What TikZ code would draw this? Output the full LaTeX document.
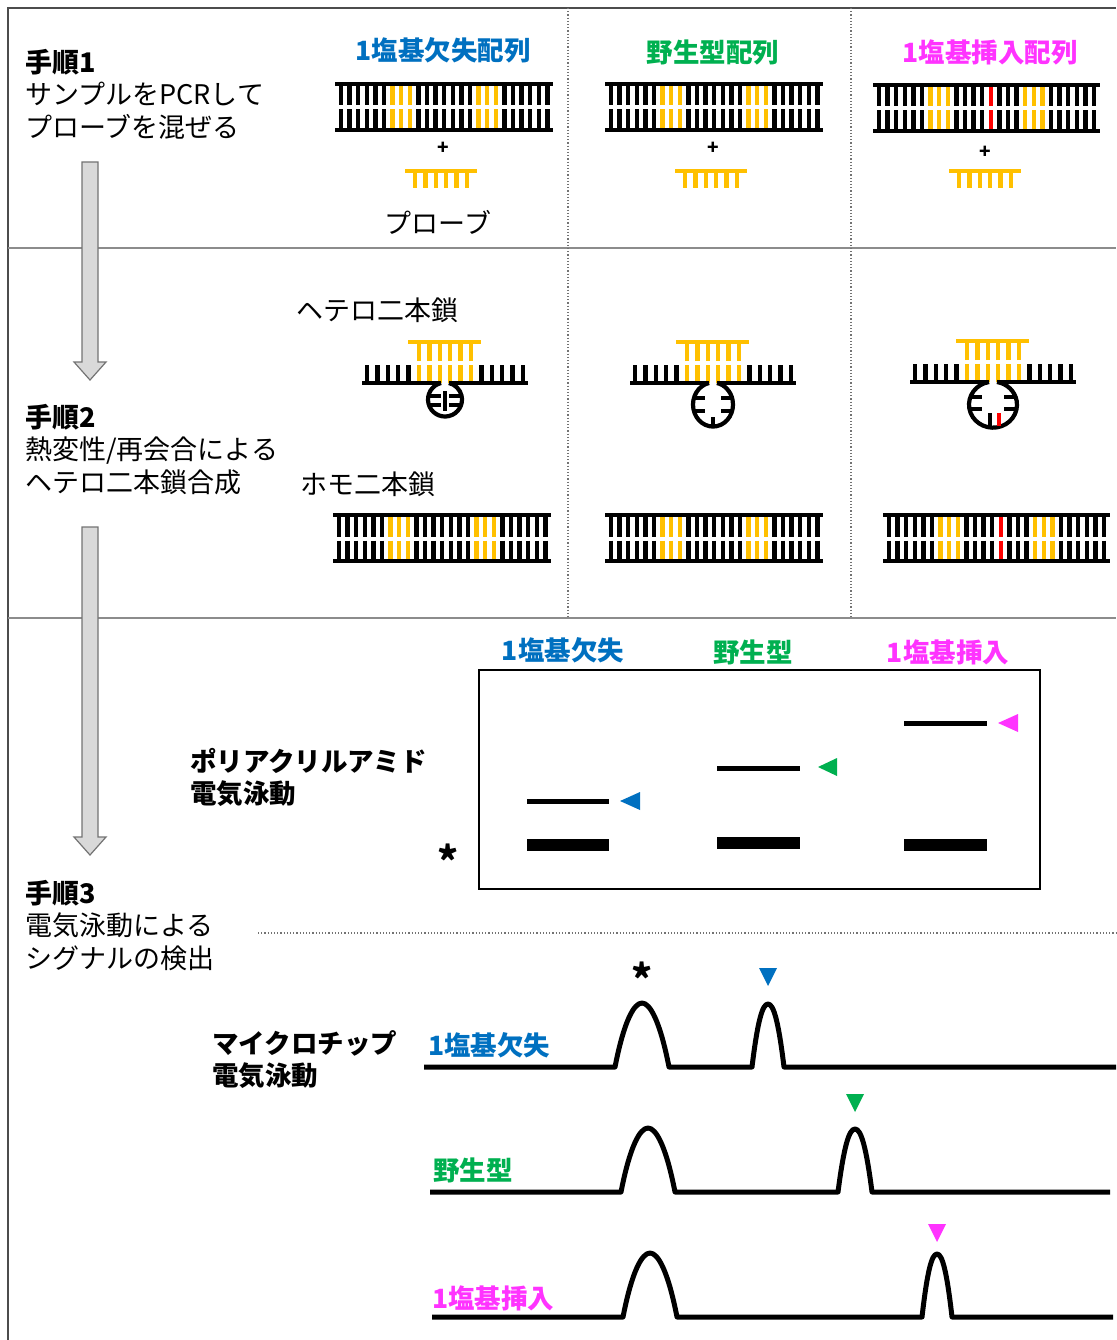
\documentclass[tikz,border=0pt]{standalone}
\usepackage{fontspec}
\setmainfont{Noto Sans CJK JP}
\usepackage{tikz}
\usepackage{xcolor}
\definecolor{deletion}{RGB}{0,112,192}
\definecolor{wildtype}{RGB}{0,176,80}
\definecolor{insertion}{RGB}{255,51,255}
\definecolor{probe}{RGB}{255,192,0}
\definecolor{missing}{RGB}{210,210,210}
\definecolor{extra}{RGB}{255,0,0}
\definecolor{flow}{RGB}{217,217,217}

% double strand: first rung x, top rail y, number of rungs, rung colours
\newcommand{\dsdna}[4]{%
  \foreach \col [count=\k from 0] in {#4}{%
    \draw[rung,\col] (#1+\k*8.6,#2) -- (#1+\k*8.6,#2+21.5);
    \draw[rung,\col] (#1+\k*8.6,#2+25.5) -- (#1+\k*8.6,#2+46);
  }
  \draw[rail] (#1-6,#2) -- (#1+#3*8.6-2.6,#2);
  \draw[rail] (#1-6,#2+46) -- (#1+#3*8.6-2.6,#2+46);
}

% free probe: centre x, bar y
\newcommand{\probe}[2]{%
  \foreach \k in {0,...,5}
    \draw[rung,probe] (#1-26+\k*10.4,#2) -- (#1-26+\k*10.4,#2+17);
  \draw[bar] (#1-36,#2) -- (#1+36,#2);
}

% probe on a single strand with a loop: centre x, rail y, loop radii
\newcommand{\hetero}[4]{%
  \foreach \k in {0,1,2,3,4,11,12,13,14,15}
    \draw[rung] (#1-78+\k*10.4,#2) -- (#1-78+\k*10.4,#2-18);
  \foreach \k in {5,...,10}{%
    \draw[rung,probe] (#1-78+\k*10.4,#2) -- (#1-78+\k*10.4,#2-18);
    \draw[rung,probe] (#1-78+\k*10.4,#2-22) -- (#1-78+\k*10.4,#2-41);
  }
  \draw[bar] (#1-37,#2-41) -- (#1+36,#2-41);
  \draw[rail] (#1-83,#2) -- (#1-4,#2);
  \draw[rail] (#1+4,#2) -- (#1+83,#2);
  \draw[loop] (#1-4,#2) arc[start angle={-90-asin(4/#3)}, end angle={-450+asin(4/#3)}, x radius=#3, y radius=#4];
}

% electropherogram: base y, x from, x to, first peak x, second peak x, half width
\newcommand{\trace}[6]{%
  \draw[trace] (#2,#1) -- (#4-27,#1)
    .. controls (#4-18,#1-46) and (#4-8,#1-64) .. (#4,#1-64)
    .. controls (#4+8,#1-64) and (#4+18,#1-46) .. (#4+27,#1)
    -- (#5-#6,#1)
    .. controls (#5-#6*0.65,#1-46) and (#5-#6*0.35,#1-63) .. (#5,#1-63)
    .. controls (#5+#6*0.35,#1-63) and (#5+#6*0.65,#1-46) .. (#5+#6,#1)
    -- (#3,#1);
}

\begin{document}
\begin{tikzpicture}[x=1pt, y=-1pt,
  txt/.style={inner sep=0pt, font=\fontsize{27}{32.5}\selectfont},
  hdr/.style={inner sep=0pt, font=\fontsize{26.5}{32.5}\selectfont\bfseries},
  rung/.style={line width=4.5pt, black},
  rail/.style={line width=4.8pt, black},
  bar/.style={line width=4.8pt, probe},
  loop/.style={line width=4.2pt, black},
  stub/.style={line width=3.4pt, black},
  trace/.style={line width=5pt, line join=round},
  frame/.style={line width=2pt, black!70},
  sep/.style={line width=1.3pt, black!45},
  dotsep/.style={line width=1.2pt, black!55, dotted},
  flowarrow/.style={fill=flow, draw=black!55, line width=1.2pt}]

\useasboundingbox (0,0) rectangle (1116,1340);

% panel lines
\draw[frame] (8,1340) -- (8,8) -- (1116,8);
\draw[sep] (8,248) -- (1116,248);
\draw[sep] (8,618) -- (1116,618);
\draw[dotsep] (568,8) -- (568,618);
\draw[dotsep] (851,8) -- (851,618);
\draw[dotsep] (258,933) -- (1116,933);

% process arrows
\draw[flowarrow] (82,162) -- (98,162) -- (98,362) -- (106,362) -- (90,380)
  -- (74,362) -- (82,362) -- cycle;
\draw[flowarrow] (82,527) -- (98,527) -- (98,837) -- (106,837) -- (90,855)
  -- (74,837) -- (82,837) -- cycle;

% steps
\node[txt, anchor=north west, align=left] (step1) at (25,49)
  {\textbf{手順1}\\サンプルをPCRして\\プローブを混ぜる};
\node[txt, anchor=north west, align=left] (step2) at (25,404)
  {\textbf{手順2}\\熱変性/再会合による\\ヘテロ二本鎖合成};
\node[txt, anchor=north west, align=left] (step3) at (25,880)
  {\textbf{手順3}\\電気泳動による\\シグナルの検出};

% step 1: amplified sequences and probe
\node[hdr, deletion] (seqdel) at (443,50) {1塩基欠失配列};
\node[hdr, wildtype] (seqwt) at (713,52) {野生型配列};
\node[hdr, insertion] (seqins) at (990,52) {1塩基挿入配列};

\dsdna{341}{84}{25}{black,black,black,black,black,black,probe,probe,probe,black,black,black,missing,black,black,black,probe,probe,probe,black,black,black,black,black,black}
\dsdna{611}{84}{25}{black,black,black,black,black,black,probe,probe,probe,black,black,black,black,black,black,black,probe,probe,probe,black,black,black,black,black,black}
\dsdna{879}{85}{26}{black,black,black,black,black,black,probe,probe,probe,black,black,black,black,extra,black,black,black,probe,probe,probe,black,black,black,black,black,black}

\node[inner sep=0pt, font=\fontsize{19}{19}\selectfont\bfseries] (plusdel) at (443,148) {+};
\node[inner sep=0pt, font=\fontsize{19}{19}\selectfont\bfseries] (pluswt) at (713,148) {+};
\node[inner sep=0pt, font=\fontsize{19}{19}\selectfont\bfseries] (plusins) at (985,152) {+};

\probe{441}{171}
\probe{711}{171}
\probe{985}{171}
\node[txt] (probelbl) at (438,222) {プローブ};

% step 2: heteroduplex and homoduplex
\node[txt, anchor=west] (heterolbl) at (296,310) {ヘテロ二本鎖};
\node[txt, anchor=west] (homolbl) at (300,484) {ホモ二本鎖};

\hetero{445}{383}{17}{17}
\draw[stub] (430,396) -- (441,396) (430,405) -- (441,405)
  (460,396) -- (449,396) (460,405) -- (449,405) (445,391) -- (445,411);
\hetero{713}{383}{20}{22}
\draw[stub] (695,398) -- (705,398) (695,411) -- (705,411)
  (731,398) -- (721,398) (731,411) -- (721,411) (713,427) -- (713,417);
\hetero{993}{382}{24}{23}
\draw[stub] (971,397) -- (982,397) (971,409) -- (982,409)
  (1015,397) -- (1004,397) (1015,409) -- (1004,409) (990,426) -- (990,413);
\draw[stub, extra] (999,426) -- (999,413);

\dsdna{339}{515}{25}{black,black,black,black,black,black,probe,probe,probe,black,black,black,missing,black,black,black,probe,probe,probe,black,black,black,black,black,black}
\dsdna{611}{515}{25}{black,black,black,black,black,black,probe,probe,probe,black,black,black,black,black,black,black,probe,probe,probe,black,black,black,black,black,black}
\dsdna{889}{515}{26}{black,black,black,black,black,black,probe,probe,probe,black,black,black,black,extra,black,black,black,probe,probe,probe,black,black,black,black,black,black}

% step 3: polyacrylamide gel
\node[hdr, deletion] (geldel) at (563,650) {1塩基欠失};
\node[hdr, wildtype] (gelwt) at (753,652) {野生型};
\node[hdr, insertion] (gelins) at (948,652) {1塩基挿入};
\node[hdr, anchor=north west, align=left] (pagelbl) at (190,748) {ポリアクリルアミド\\電気泳動};
\node[inner sep=0pt, font=\fontsize{40}{40}\selectfont\bfseries] (gelstar) at (448,860) {*};

\draw[line width=2.5pt] (479,670) rectangle (1040,889);
\draw[line width=5pt] (527,801) -- (609,801);
\fill (527,839) rectangle (609,851);
\draw[line width=5pt] (717,768) -- (800,768);
\fill (717,837) rectangle (800,849);
\draw[line width=5pt] (904,723) -- (987,723);
\fill (904,839) rectangle (987,851);
\fill[deletion] (620,801) -- (640,792) -- (640,810) -- cycle;
\fill[wildtype] (818,767) -- (837,758) -- (837,776) -- cycle;
\fill[insertion] (998,723) -- (1018,714) -- (1018,732) -- cycle;

% step 3: microchip electrophoresis
\node[hdr, anchor=north west, align=left] (chiplbl) at (212,1030) {マイクロチップ\\電気泳動};
\node[hdr, deletion, anchor=west] (tracedel) at (428,1045) {1塩基欠失};
\node[hdr, wildtype, anchor=west] (tracewt) at (433,1170) {野生型};
\node[hdr, insertion, anchor=west] (traceins) at (432,1298) {1塩基挿入};
\node[inner sep=0pt, font=\fontsize{40}{40}\selectfont\bfseries] (tracestar) at (642,978) {*};

\trace{1067}{424}{1116}{642}{768}{16}
\trace{1192}{430}{1110}{648}{855}{17}
\trace{1317}{432}{1113}{650}{937}{15}

\fill[deletion] (759,968) -- (777,968) -- (768,986) -- cycle;
\fill[wildtype] (846,1094) -- (864,1094) -- (855,1112) -- cycle;
\fill[insertion] (928,1224) -- (946,1224) -- (937,1242) -- cycle;

\end{tikzpicture}
\end{document}
